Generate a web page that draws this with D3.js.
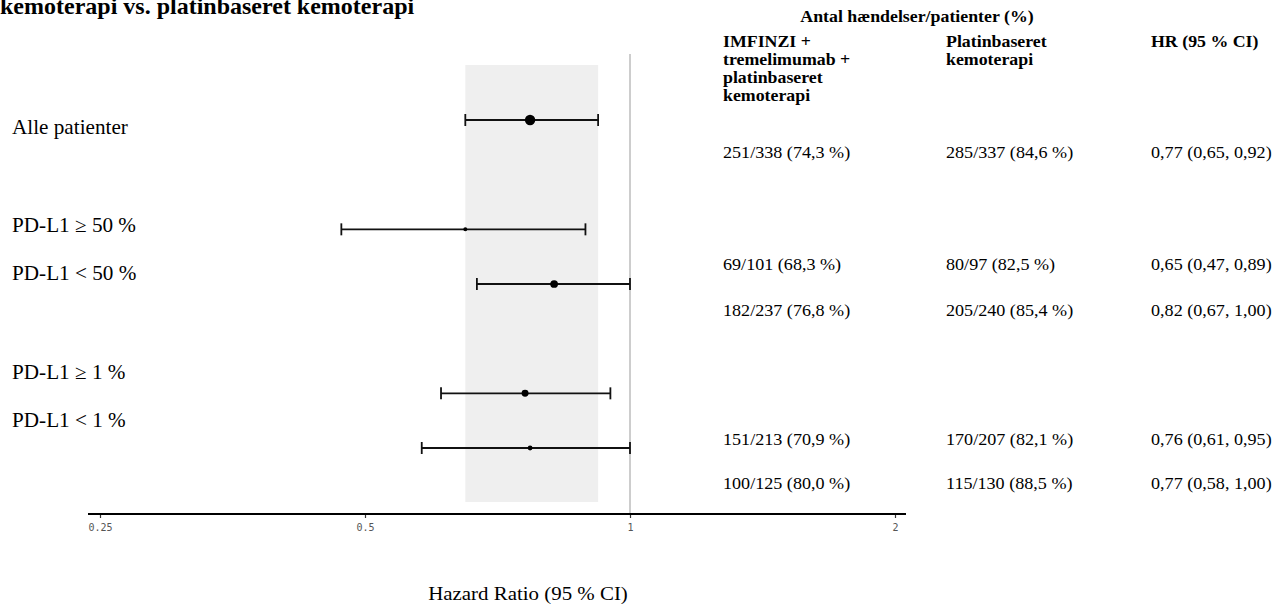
<!DOCTYPE html>
<html><head><meta charset="utf-8">
<script src="https://cdn.jsdelivr.net/npm/d3@7"></script>
<style>body{margin:0;background:#fff} svg{display:block}</style>
</head><body><svg id="c" width="1275" height="606"></svg>
<script>
// ---- data ----
const titleText = "kemoterapi vs. platinbaseret kemoterapi";
const subgroups = ["Alle patienter", "PD-L1 ≥ 50 %", "PD-L1 < 50 %", "PD-L1 ≥ 1 %", "PD-L1 < 1 %"];
const hr = [0.77, 0.65, 0.82, 0.76, 0.77];
const ciLow = [0.65, 0.47, 0.67, 0.61, 0.58];
const ciHigh = [0.92, 0.89, 1.00, 0.95, 1.00];
const armEvents = [251, 69, 182, 151, 100];
const armPatients = [338, 101, 237, 213, 125];
const ctrlEvents = [285, 80, 205, 170, 115];
const ctrlPatients = [337, 97, 240, 207, 130];
const xTicks = [0.25, 0.5, 1, 2];
const headerTop = "Antal hændelser/patienter (%)";
const headerArm = ["IMFINZI +", "tremelimumab +", "platinbaseret", "kemoterapi"];
const headerCtrl = ["Platinbaseret", "kemoterapi"];
const headerHR = ["HR (95 % CI)"];
const xTitle = "Hazard Ratio (95 % CI)";

// ---- layout ----
const rowSlot = [0, 2, 3, 5, 6];
const labelBaseline = [134, 232, 280, 379, 427];
const tableBaseline = [158, 270, 316, 445, 489];
const colX = [723, 946, 1151];
const serif = "'Liberation Serif', 'Times New Roman', serif";

const svg = d3.select("#c");
const x = d3.scaleLog().base(2).domain([0.25, 2]).range([100, 895]);
const y = d3.scaleLinear().domain([0, 6]).range([120, 448]);
const nTot = armPatients.map((d, i) => d + ctrlPatients[i]);
const r = d3.scaleLinear().domain(d3.extent(nTot)).range([2, 5.2]);

const pct = (e, n) => (100 * e / n).toFixed(1).replace(".", ",");
const f2 = v => v.toFixed(2).replace(".", ",");

// text helper with slight horizontal stretch
function txt(parent, tx, ty, s, size, sx, opts = {}) {
  return parent.append("text")
    .attr("transform", `translate(${tx},${ty}) scale(${sx},1)`)
    .attr("font-family", serif).attr("font-size", size)
    .attr("font-weight", opts.bold ? "bold" : "normal")
    .attr("text-anchor", opts.anchor || "start")
    .attr("fill", "#000")
    .text(s);
}

// title
txt(svg, 0, 14, titleText, 24, 1, {bold: true});

// shaded band for overall CI
svg.append("rect")
  .attr("x", x(ciLow[0])).attr("width", x(ciHigh[0]) - x(ciLow[0]))
  .attr("y", 65).attr("height", 437).attr("fill", "#efefef");

// reference line at 1
svg.append("line").attr("x1", x(1)).attr("x2", x(1)).attr("y1", 54).attr("y2", 514)
  .attr("stroke", "#bdbdbd").attr("stroke-width", 1.5);

// CI bars
const rows = subgroups.map((s, i) => ({s, i, yy: y(rowSlot[i])}));
const g = svg.append("g");
g.selectAll("line.ci").data(rows).join("line").attr("class", "ci")
  .attr("x1", d => x(ciLow[d.i])).attr("x2", d => x(ciHigh[d.i]))
  .attr("y1", d => d.yy).attr("y2", d => d.yy)
  .attr("stroke", "#111").attr("stroke-width", 1.8);
g.selectAll("line.capl").data(rows).join("line").attr("class", "capl")
  .attr("x1", d => x(ciLow[d.i])).attr("x2", d => x(ciLow[d.i]))
  .attr("y1", d => d.yy - 6).attr("y2", d => d.yy + 6)
  .attr("stroke", "#111").attr("stroke-width", 1.8);
g.selectAll("line.caph").data(rows).join("line").attr("class", "caph")
  .attr("x1", d => x(ciHigh[d.i])).attr("x2", d => x(ciHigh[d.i]))
  .attr("y1", d => d.yy - 6).attr("y2", d => d.yy + 6)
  .attr("stroke", "#111").attr("stroke-width", 1.8);
g.selectAll("circle").data(rows).join("circle")
  .attr("cx", d => x(hr[d.i])).attr("cy", d => d.yy).attr("r", d => r(nTot[d.i]))
  .attr("fill", "#000");

// axis
const axis = d3.axisBottom(x).tickValues(xTicks).tickFormat(d => String(d))
  .tickSize(4).tickSizeOuter(0);
const ax = svg.append("g").attr("transform", "translate(0,514)").call(axis);
ax.select(".domain").remove();
ax.selectAll(".tick line").attr("stroke", "#333").attr("stroke-width", 1.2);
ax.selectAll(".tick text").attr("font-family", "'DejaVu Sans Mono', monospace")
  .attr("font-size", 10).attr("fill", "#555").attr("dy", "0.95em");
svg.append("line").attr("x1", 88).attr("x2", 906).attr("y1", 514).attr("y2", 514)
  .attr("stroke", "#000").attr("stroke-width", 2);

// axis title
txt(svg, 528, 600, xTitle, 19, 1.1, {anchor: "middle"});

// left labels
rows.forEach(d => txt(svg, 12, labelBaseline[d.i], d.s, 20, 1.06));

// header
txt(svg, 917, 22, headerTop, 17.5, 1.02, {bold: true, anchor: "middle"});
[headerArm, headerCtrl, headerHR].forEach((lines, c) => {
  lines.forEach((s, k) => txt(svg, colX[c], 47 + k * 18, s, 17.5, 1.02, {bold: true}));
});

// table values
const colText = [
  i => `${armEvents[i]}/${armPatients[i]} (${pct(armEvents[i], armPatients[i])} %)`,
  i => `${ctrlEvents[i]}/${ctrlPatients[i]} (${pct(ctrlEvents[i], ctrlPatients[i])} %)`,
  i => `${f2(hr[i])} (${f2(ciLow[i])}, ${f2(ciHigh[i])})`
];
colText.forEach((fn, c) => {
  rows.forEach(d => txt(svg, colX[c], tableBaseline[d.i], fn(d.i), 17.5, 1.035));
});
</script></body></html>
